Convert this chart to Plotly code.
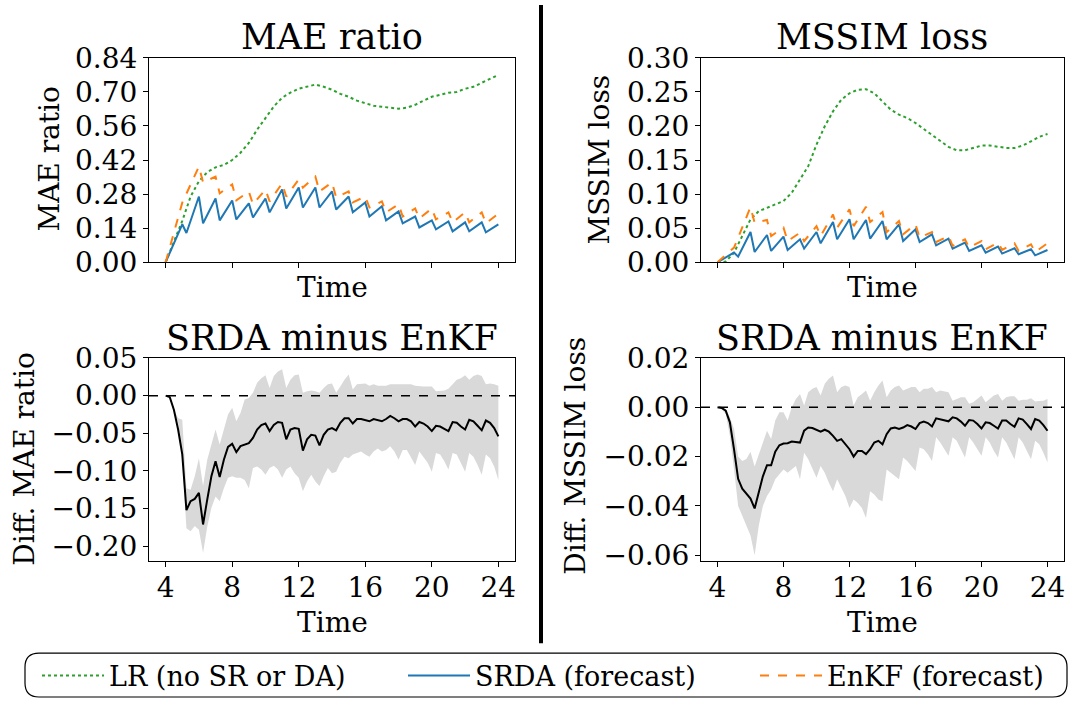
import plotly.graph_objects as go

W, H = 1070, 701

# ---------------- data ----------------
T_LR = [4, 4.5, 5, 5.5, 6, 6.5, 7, 7.5, 8, 8.5, 9, 9.5, 10, 10.5, 11, 11.5, 12, 12.5, 13, 13.5,
        14, 14.5, 15, 15.5, 16, 16.5, 17, 17.5, 18, 18.5, 19, 19.5, 20, 20.5, 21, 21.5, 22, 22.5,
        23, 23.5, 24]
T_SAW = [4, 5, 5.25, 6, 6.25, 7, 7.25, 8, 8.25, 9, 9.25, 10, 10.25, 11, 11.25, 12, 12.25,
         13, 13.25, 14, 14.25, 15, 15.25, 16, 16.25, 17, 17.25, 18, 18.25, 19, 19.25, 20, 20.25,
         21, 21.25, 22, 22.25, 23, 23.25, 24]
T_DIFF = [4, 4.25, 4.5, 4.75, 5, 5.25, 5.5, 5.75, 6, 6.25, 6.5, 6.75, 7, 7.25, 7.5, 7.75,
          8, 8.25, 8.5, 8.75, 9, 9.25, 9.5, 9.75, 10, 10.25, 10.5, 10.75, 11, 11.25, 11.5, 11.75,
          12, 12.25, 12.5, 12.75, 13, 13.25, 13.5, 13.75, 14, 14.25, 14.5, 14.75, 15, 15.25, 15.5,
          15.75, 16, 16.25, 16.5, 16.75, 17, 17.25, 17.5, 17.75, 18, 18.25, 18.5, 18.75, 19, 19.25,
          19.5, 19.75, 20, 20.25, 20.5, 20.75, 21, 21.25, 21.5, 21.75, 22, 22.25, 22.5, 22.75, 23,
          23.25, 23.5, 23.75, 24]

MAE_LR = [0, 0.085, 0.17, 0.27, 0.333, 0.37, 0.39, 0.40, 0.42, 0.45, 0.49, 0.545, 0.594, 0.64,
          0.676, 0.697, 0.713, 0.721, 0.73, 0.721, 0.709, 0.692, 0.68, 0.664, 0.655, 0.643, 0.639,
          0.635, 0.631, 0.635, 0.647, 0.664, 0.68, 0.688, 0.697, 0.70, 0.713, 0.721, 0.738, 0.754,
          0.77]
MAE_SRDA = [0, 0.156, 0.12, 0.27, 0.16, 0.262, 0.172, 0.254, 0.176, 0.242, 0.184, 0.262, 0.205,
            0.299, 0.221, 0.307, 0.225, 0.307, 0.225, 0.291, 0.217, 0.27, 0.205, 0.246, 0.188,
            0.23, 0.172, 0.209, 0.16, 0.188, 0.143, 0.172, 0.135, 0.168, 0.127, 0.164, 0.127,
            0.164, 0.123, 0.156]
MAE_ENKF = [0, 0.245, 0.282, 0.393, 0.328, 0.352, 0.283, 0.32, 0.254, 0.291, 0.238, 0.299, 0.25,
            0.324, 0.27, 0.34, 0.307, 0.352, 0.291, 0.328, 0.266, 0.291, 0.246, 0.27, 0.225, 0.25,
            0.205, 0.238, 0.188, 0.221, 0.18, 0.221, 0.176, 0.205, 0.164, 0.205, 0.164, 0.205,
            0.16, 0.2]

SSIM_LR = [0, 0.001, 0.014, 0.0385, 0.063, 0.075, 0.080, 0.085, 0.0898, 0.102, 0.1215, 0.141,
           0.1727, 0.1995, 0.2215, 0.2385, 0.248, 0.2532, 0.254, 0.248, 0.236, 0.224, 0.2166,
           0.2117, 0.2044, 0.1956, 0.1873, 0.1775, 0.1693, 0.1643, 0.1643, 0.1678, 0.1712, 0.1712,
           0.170, 0.1678, 0.1678, 0.1712, 0.1775, 0.184, 0.1883]
SSIM_SRDA = [0, 0.0142, 0.0083, 0.0444, 0.0151, 0.040, 0.0166, 0.0376, 0.018, 0.0337, 0.020,
             0.0444, 0.0278, 0.059, 0.0337, 0.063, 0.0337, 0.062, 0.0347, 0.0605, 0.0337, 0.0556,
             0.0312, 0.0483, 0.0297, 0.041, 0.0249, 0.0347, 0.020, 0.0288, 0.0166, 0.0249, 0.0142,
             0.023, 0.0127, 0.0205, 0.0117, 0.019, 0.0102, 0.018]
SSIM_ENKF = [0, 0.0215, 0.036, 0.081, 0.058, 0.062, 0.0385, 0.0508, 0.031, 0.0434, 0.031, 0.053,
             0.0385, 0.070, 0.0508, 0.0776, 0.053, 0.0815, 0.059, 0.0737, 0.0444, 0.0605, 0.041,
             0.0556, 0.0361, 0.0444, 0.0297, 0.0385, 0.0239, 0.0337, 0.0215, 0.0312, 0.019,
             0.0288, 0.018, 0.0278, 0.0166, 0.0263, 0.0151, 0.0278]

DMAE_MEAN = [0, -0.002, -0.019, -0.045, -0.078, -0.152, -0.140, -0.137, -0.129, -0.171, -0.138,
             -0.107, -0.087, -0.108, -0.085, -0.068, -0.064, -0.075, -0.067, -0.065, -0.063,
             -0.056, -0.045, -0.039, -0.037, -0.047, -0.039, -0.035, -0.036, -0.058, -0.045,
             -0.043, -0.044, -0.073, -0.058, -0.052, -0.053, -0.066, -0.052, -0.045, -0.043,
             -0.046, -0.036, -0.030, -0.030, -0.037, -0.031, -0.031, -0.033, -0.034, -0.031,
             -0.032, -0.034, -0.031, -0.027, -0.030, -0.034, -0.031, -0.031, -0.034, -0.041,
             -0.035, -0.037, -0.041, -0.047, -0.040, -0.041, -0.044, -0.047, -0.035, -0.036,
             -0.041, -0.045, -0.032, -0.034, -0.040, -0.046, -0.033, -0.036, -0.043, -0.054]
DMAE_UP = [0, -0.003, -0.019, -0.030, -0.032, -0.123, -0.125, -0.107, -0.083, -0.120, -0.085,
           -0.065, -0.045, -0.065, -0.043, -0.025, -0.016, -0.034, -0.023, -0.005, -0.003, 0.004,
           0.017, 0.023, 0.027, 0.010, 0.026, 0.032, 0.035, 0.010, 0.021, 0.027, 0.028, 0.004,
           0.006, 0.007, 0.006, 0.004, 0.010, 0.015, 0.016, 0.004, 0.012, 0.021, 0.028, 0.008,
           0.015, 0.016, 0.016, 0.013, 0.015, 0.013, 0.013, 0.013, 0.015, 0.015, 0.016, 0.015,
           0.015, 0.015, 0.013, 0.012, 0.012, 0.012, 0.012, 0.006, 0.006, 0.007, 0.009, 0.015,
           0.021, 0.023, 0.027, 0.021, 0.026, 0.028, 0.026, 0.015, 0.016, 0.015, 0.013]
DMAE_LO = [0, -0.004, -0.021, -0.036, -0.085, -0.176, -0.180, -0.173, -0.178, -0.209, -0.174,
           -0.149, -0.134, -0.140, -0.123, -0.109, -0.107, -0.109, -0.109, -0.112, -0.123, -0.096,
           -0.094, -0.098, -0.105, -0.096, -0.093, -0.098, -0.109, -0.098, -0.094, -0.103, -0.109,
           -0.127, -0.114, -0.105, -0.114, -0.120, -0.107, -0.096, -0.103, -0.101, -0.089, -0.081,
           -0.083, -0.078, -0.076, -0.074, -0.078, -0.081, -0.074, -0.070, -0.074, -0.072, -0.067,
           -0.074, -0.085, -0.072, -0.072, -0.083, -0.092, -0.074, -0.081, -0.089, -0.101, -0.076,
           -0.078, -0.087, -0.098, -0.076, -0.078, -0.089, -0.101, -0.076, -0.081, -0.092, -0.105,
           -0.078, -0.083, -0.094, -0.112]

DSSIM_MEAN = [0, -0.0003, -0.0014, -0.0061, -0.017, -0.029, -0.033, -0.035, -0.037, -0.041,
              -0.034, -0.028, -0.0235, -0.0235, -0.018, -0.0154, -0.0147, -0.0146, -0.0139,
              -0.014, -0.0143, -0.0095, -0.0082, -0.0084, -0.0091, -0.0099, -0.0091, -0.0099,
              -0.0116, -0.0136, -0.0129, -0.015, -0.017, -0.020, -0.0177, -0.0177, -0.019, -0.017,
              -0.0143, -0.0136, -0.015, -0.0109, -0.0086, -0.0082, -0.0088, -0.0082, -0.0072,
              -0.0078, -0.0088, -0.0064, -0.0058, -0.0064, -0.0078, -0.0045, -0.0048, -0.0054,
              -0.0057, -0.0041, -0.0045, -0.0058, -0.0075, -0.0052, -0.0054, -0.0068, -0.0086,
              -0.0061, -0.0064, -0.0075, -0.0086, -0.0054, -0.0054, -0.0068, -0.0079, -0.0045,
              -0.005, -0.0068, -0.0088, -0.0048, -0.0054, -0.0072, -0.0095]
DSSIM_UP = [0, -0.0003, -0.0007, -0.004, -0.0088, -0.020, -0.0218, -0.021, -0.018, -0.024,
            -0.019, -0.0136, -0.0095, -0.0129, -0.0054, -0.002, -0.002, -0.0054, 0, 0.0034,
            0.0054, 0.0007, 0.0061, 0.0075, 0.0082, 0.0048, 0.0095, 0.0116, 0.0129, 0.0061,
            0.0082, 0.0088, 0.0082, 0.0007, 0.0041, 0.0054, 0.0068, 0.0027, 0.0061, 0.0088,
            0.0109, 0.0041, 0.0068, 0.0082, 0.0088, 0.0068, 0.0075, 0.0082, 0.0082, 0.0061,
            0.0075, 0.0075, 0.0082, 0.0061, 0.0068, 0.0065, 0.0061, 0.0027, 0.0034, 0.0041,
            0.0041, 0.0014, 0.002, 0.0034, 0.0048, 0.002, 0.0034, 0.0048, 0.0054, 0.0027, 0.0041,
            0.0045, 0.0045, 0.0027, 0.0031, 0.0031, 0.0037, 0.0023, 0.0026, 0.0027, 0.0034]
DSSIM_LO = [0, -0.0007, -0.0027, -0.0116, -0.025, -0.040, -0.044, -0.048, -0.052, -0.060,
            -0.048, -0.040, -0.036, -0.0333, -0.0292, -0.0272, -0.0252, -0.0265, -0.0252,
            -0.0238, -0.0292, -0.0184, -0.0211, -0.0252, -0.0286, -0.0238, -0.0265, -0.0306,
            -0.034, -0.0292, -0.0326, -0.036, -0.0408, -0.0374, -0.0388, -0.0408, -0.0449,
            -0.034, -0.0354, -0.0374, -0.0381, -0.0252, -0.0265, -0.0279, -0.0292, -0.0204,
            -0.0218, -0.0238, -0.0258, -0.0163, -0.017, -0.019, -0.0218, -0.0122, -0.0143,
            -0.017, -0.0197, -0.0122, -0.0136, -0.017, -0.0204, -0.0122, -0.0143, -0.017,
            -0.0197, -0.0122, -0.0143, -0.0177, -0.0204, -0.0122, -0.0143, -0.0177, -0.0211,
            -0.0122, -0.0143, -0.0177, -0.0211, -0.0136, -0.015, -0.0184, -0.0224]

X_TICKS = [4, 8, 12, 16, 20, 24]
Y_TICKS_MAE = [0.00, 0.14, 0.28, 0.42, 0.56, 0.70, 0.84]
Y_TICKS_SSIM = [0.00, 0.05, 0.10, 0.15, 0.20, 0.25, 0.30]
Y_TICKS_DMAE = [-0.20, -0.15, -0.10, -0.05, 0.00, 0.05]
Y_TICKS_DSSIM = [-0.06, -0.04, -0.02, 0.00, 0.02]

# ---------------- styling ----------------
FONT = "DejaVu Serif"
TICK_SIZE = 28
TITLE_SIZE = 35
GREEN, BLUE, ORANGE = "#2ca02c", "#1f77b4", "#ff7f0e"
BAND = "#d9d9d9"


def px_x(x):
    return x / W


def px_y(y):
    return 1 - y / H


# panel boxes in pixels (left, right, top, bottom)
PANELS = {
    1: (149, 515, 58, 263),
    2: (701, 1064, 58, 263),
    3: (149, 515, 359, 563),
    4: (701, 1064, 359, 563),
}

fig = go.Figure()


def add_line(idx, x, y, color, dash, name, legend=None):
    sfx = "" if idx == 1 else str(idx)
    kw = dict(showlegend=legend is not None)
    if legend is not None:
        kw["legend"] = legend
    fig.add_trace(go.Scatter(x=x, y=y, mode="lines", name=name,
                             line=dict(color=color, width=2, dash=dash),
                             xaxis="x" + sfx, yaxis="y" + sfx, **kw))


add_line(1, T_LR, MAE_LR, GREEN, "dot", "LR (no SR or DA)", "legend")
add_line(1, T_SAW, MAE_SRDA, BLUE, "solid", "SRDA (forecast)", "legend2")
add_line(1, T_SAW, MAE_ENKF, ORANGE, "dash", "EnKF (forecast)", "legend3")
add_line(2, T_LR, SSIM_LR, GREEN, "dot", "LR")
add_line(2, T_SAW, SSIM_SRDA, BLUE, "solid", "SRDA")
add_line(2, T_SAW, SSIM_ENKF, ORANGE, "dash", "EnKF")


def add_band(idx, lo, up, mean):
    sfx = str(idx)
    fig.add_trace(go.Scatter(x=T_DIFF, y=lo, mode="lines", line=dict(width=0, color=BAND),
                             showlegend=False, xaxis="x" + sfx, yaxis="y" + sfx))
    fig.add_trace(go.Scatter(x=T_DIFF, y=up, mode="lines", line=dict(width=0, color=BAND),
                             fill="tonexty", fillcolor=BAND, showlegend=False,
                             xaxis="x" + sfx, yaxis="y" + sfx))
    fig.add_trace(go.Scatter(x=T_DIFF, y=mean, mode="lines", line=dict(width=2, color="black"),
                             showlegend=False, xaxis="x" + sfx, yaxis="y" + sfx))


add_band(3, DMAE_LO, DMAE_UP, DMAE_MEAN)
add_band(4, DSSIM_LO, DSSIM_UP, DSSIM_MEAN)

axis_common = dict(showline=True, linecolor="black", linewidth=1.2, mirror=True,
                   ticks="outside", ticklen=5, tickwidth=1.2, tickcolor="black",
                   showgrid=False, zeroline=False, automargin=False,
                   tickfont=dict(family=FONT, size=TICK_SIZE, color="black"))

yinfo = {
    1: ([0, 0.84], Y_TICKS_MAE, [f"{v:.2f}" for v in Y_TICKS_MAE]),
    2: ([0, 0.30], Y_TICKS_SSIM, [f"{v:.2f}" for v in Y_TICKS_SSIM]),
    3: ([-0.22, 0.05], Y_TICKS_DMAE, [f"{v:.2f}".replace("-", "\u2212") for v in Y_TICKS_DMAE]),
    4: ([-0.0625, 0.02], Y_TICKS_DSSIM, [f"{v:.2f}".replace("-", "\u2212") for v in Y_TICKS_DSSIM]),
}

layout_axes = {}
for i, (l, r, t, b) in PANELS.items():
    sfx = "" if i == 1 else str(i)
    layout_axes["xaxis" + sfx] = dict(axis_common, domain=[px_x(l), px_x(r)], range=[3, 25],
                                      tickvals=X_TICKS, showticklabels=(i >= 3),
                                      ticklabelstandoff=-4, anchor="y" + sfx)
    rng, tv, tt = yinfo[i]
    layout_axes["yaxis" + sfx] = dict(axis_common, domain=[px_y(b), px_y(t)], range=rng,
                                      tickvals=tv, ticktext=tt, anchor="x" + sfx)

annotations = []


def ann(text, x, y, size, angle=0):
    annotations.append(dict(text=text, x=px_x(x), y=px_y(y), xref="paper", yref="paper",
                            showarrow=False, xanchor="center", yanchor="middle",
                            textangle=angle, font=dict(family=FONT, size=size, color="black")))


ann("MAE ratio", 332, 37, TITLE_SIZE)
ann("MSSIM loss", 882, 37, TITLE_SIZE)
ann("SRDA minus EnKF", 332, 339, TITLE_SIZE)
ann("SRDA minus EnKF", 882, 339, TITLE_SIZE)
ann("Time", 332, 288, TICK_SIZE)
ann("Time", 882, 288, TICK_SIZE)
ann("Time", 332, 624, TICK_SIZE)
ann("Time", 882, 624, TICK_SIZE)
ann("MAE ratio", 50, 160, TICK_SIZE, -90)
ann("MSSIM loss", 600, 160, TICK_SIZE, -90)
ann("Diff. MAE ratio", 25, 461, TICK_SIZE, -90)
ann("Diff. MSSIM loss", 576, 457, TICK_SIZE, -90)


def rounded_rect(x0, y0, x1, y1, r):
    def P(x, y):
        return f"{px_x(x):.5f},{px_y(y):.5f}"
    return (f"M {P(x0 + r, y0)} L {P(x1 - r, y0)} Q {P(x1, y0)} {P(x1, y0 + r)} "
            f"L {P(x1, y1 - r)} Q {P(x1, y1)} {P(x1 - r, y1)} "
            f"L {P(x0 + r, y1)} Q {P(x0, y1)} {P(x0, y1 - r)} "
            f"L {P(x0, y0 + r)} Q {P(x0, y0)} {P(x0 + r, y0)} Z")


shapes = [
    dict(type="line", xref="x3 domain", yref="y3", x0=0, x1=1, y0=0, y1=0,
         line=dict(color="black", width=1.5, dash="dash")),
    dict(type="line", xref="x4 domain", yref="y4", x0=0, x1=1, y0=0, y1=0,
         line=dict(color="black", width=1.5, dash="dash")),
    dict(type="line", xref="paper", yref="paper", x0=px_x(541), x1=px_x(541),
         y0=px_y(5), y1=px_y(645), line=dict(color="black", width=4)),
    dict(type="path", xref="paper", yref="paper", path=rounded_rect(25, 655, 1067, 699, 14),
         line=dict(color="black", width=1.2), fillcolor="rgba(0,0,0,0)"),
]


def leg(xpx):
    return dict(orientation="h", x=px_x(xpx), y=px_y(678), xanchor="left", yanchor="middle",
                font=dict(family=FONT, size=27, color="black"), bgcolor="rgba(0,0,0,0)",
                itemwidth=62, borderwidth=0)


fig.update_layout(
    width=W, height=H,
    margin=dict(l=0, r=0, t=0, b=0),
    paper_bgcolor="white", plot_bgcolor="white",
    font=dict(family=FONT, color="black"),
    annotations=annotations, shapes=shapes,
    legend=leg(37), legend2=leg(403), legend3=leg(755),
    **layout_axes,
)

fig.write_html("out.html")
